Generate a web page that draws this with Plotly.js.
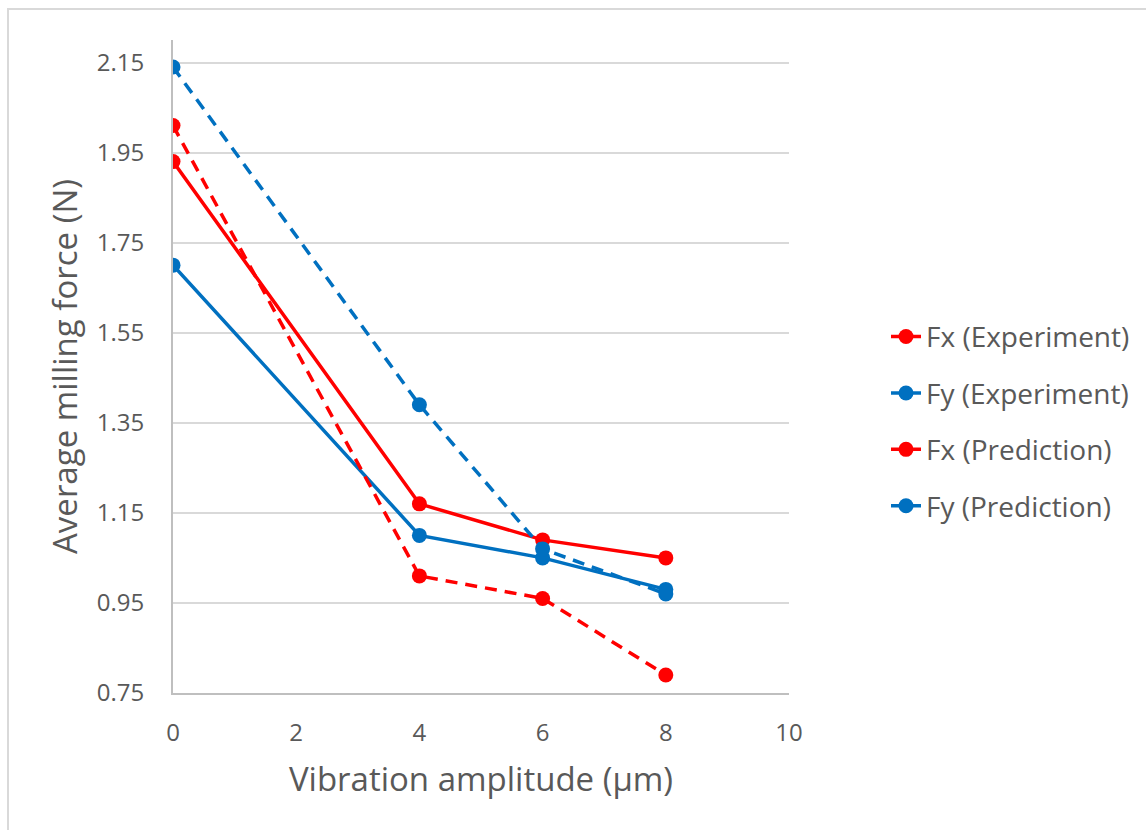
<!DOCTYPE html>
<html>
<head>
<meta charset="utf-8">
<script src="https://cdn.plot.ly/plotly-3.0.1.min.js"></script>
<style>
  html, body { margin: 0; padding: 0; background: #ffffff; }
  #chart { width: 1146px; height: 830px; }
  #frame { position: absolute; left: 7px; top: 8px; width: 1146px; height: 830px;
           border-top: 2px solid #d9d9d9; border-left: 2px solid #d9d9d9; pointer-events: none; }
</style>
</head>
<body>
<div id="chart"></div>
<div id="frame"></div>
<script>
// Data
const amplitude = [0, 4, 6, 8];
const fxExperiment = [1.93, 1.17, 1.09, 1.05];
const fyExperiment = [1.70, 1.10, 1.05, 0.98];
const fxPrediction = [2.01, 1.01, 0.96, 0.79];
const fyPrediction = [2.14, 1.39, 1.07, 0.97];
const seriesNames = ['Fx (Experiment)', 'Fy (Experiment)', 'Fx (Prediction)', 'Fy (Prediction)'];
const yTicks = [0.75, 0.95, 1.15, 1.35, 1.55, 1.75, 1.95, 2.15];
const xTicks = [0, 2, 4, 6, 8, 10];

const RED = '#ff0000';
const BLUE = '#0070c0';
const FONT = '"Open Sans", "Noto Sans", sans-serif';
const TXT = '#595959';

function trace(y, name, color, dash, grp) {
  return {
    x: amplitude, y: y, name: name, type: 'scatter', mode: 'lines+markers',
    line: { color: color, width: 3.5, dash: dash },
    marker: { color: color, size: 15 },
    legendgroup: grp
  };
}

const data = [
  trace(fxExperiment, seriesNames[0], RED, 'solid', 'a'),
  trace(fyExperiment, seriesNames[1], BLUE, 'solid', 'b'),
  trace(fxPrediction, seriesNames[2], RED, '12px,8px', 'c'),
  trace(fyPrediction, seriesNames[3], BLUE, '12px,8px', 'd')
];

const layout = {
  width: 1146, height: 830,
  margin: { l: 173, r: 356, t: 40, b: 137 },
  paper_bgcolor: 'rgba(0,0,0,0)',
  plot_bgcolor: 'rgba(0,0,0,0)',
  font: { family: FONT, color: TXT, size: 24 },
  showlegend: true,
  legend: {
    x: 1.1556, y: 0.416, xanchor: 'left', yanchor: 'middle',
    font: { family: FONT, size: 28, color: TXT },
    traceorder: 'grouped', tracegroupgap: 17,
    bgcolor: 'rgba(0,0,0,0)'
  },
  xaxis: {
    range: [0, 10], tickvals: xTicks, ticktext: xTicks.map(String),
    showgrid: false, zeroline: false,
    showline: true, linecolor: '#bfbfbf', linewidth: 2,
    ticks: 'outside', ticklen: 17, tickcolor: 'rgba(0,0,0,0)',
    tickfont: { family: FONT, size: 24, color: TXT },
    title: { text: 'Vibration amplitude (µm)', font: { family: FONT, size: 33, color: TXT }, standoff: 21 },
    automargin: false
  },
  yaxis: {
    range: [0.75, 2.2], tickvals: yTicks, ticktext: yTicks.map(v => v.toFixed(2)),
    showgrid: true, gridcolor: '#d9d9d9', gridwidth: 2,
    zeroline: false,
    showline: true, linecolor: '#bfbfbf', linewidth: 2,
    ticks: 'outside', ticklen: 22, tickcolor: 'rgba(0,0,0,0)',
    tickfont: { family: FONT, size: 24, color: TXT },
    title: { text: 'Average milling force (N)', font: { family: FONT, size: 33, color: TXT }, standoff: 9 },
    automargin: false
  }
};

Plotly.newPlot('chart', data, layout, { displayModeBar: false, staticPlot: true });
</script>
</body>
</html>
